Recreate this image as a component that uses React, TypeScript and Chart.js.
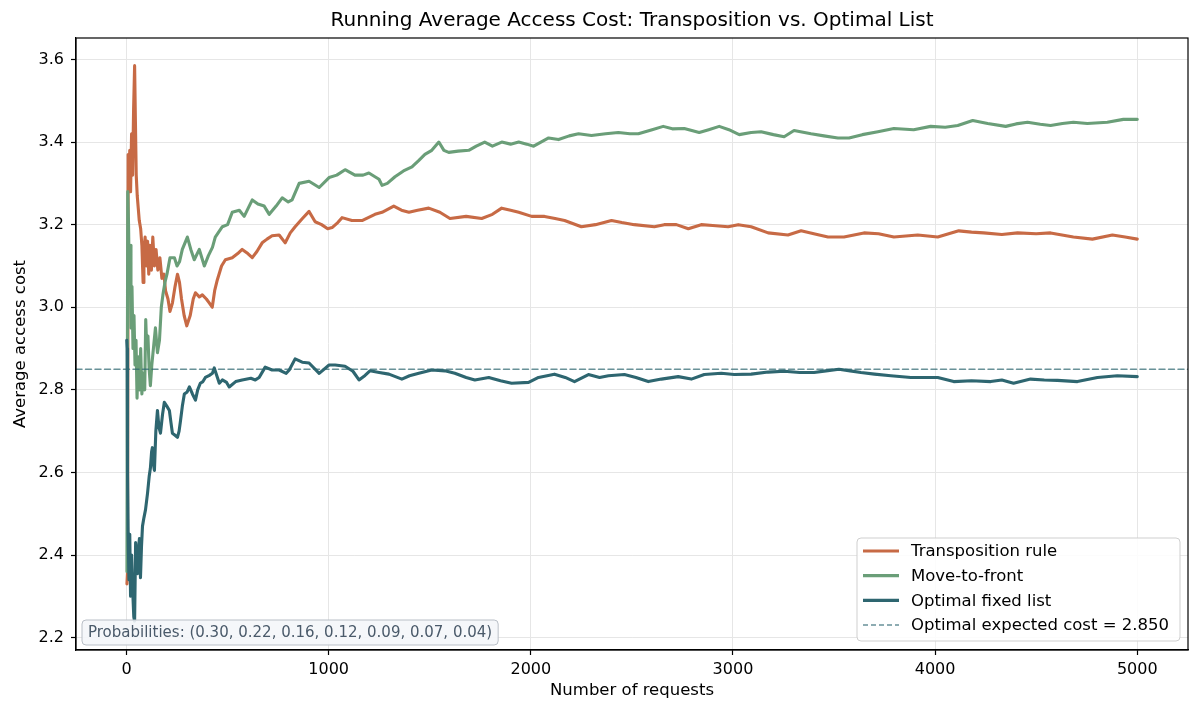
import React, { useEffect, useRef } from "react";
import { Chart, registerables } from "chart.js";

Chart.register(...registerables);

// [request number, running average cost]
const transpositionRule: [number, number][] = [
  [2, 2.33], [5, 2.36], [8, 3.37], [12, 3.3], [16, 3.38], [20, 3.28], [25, 3.42], [30, 3.32], [35, 3.48], [40, 3.585],
  [44, 3.45], [48, 3.32], [53, 3.27], [58, 3.24], [63, 3.21], [70, 3.19], [76, 3.15], [82, 3.06], [86, 3.14], [92, 3.17],
  [98, 3.1], [104, 3.16], [110, 3.08], [116, 3.15], [123, 3.09], [130, 3.17], [138, 3.1], [146, 3.14], [155, 3.09], [165, 3.12],
  [175, 3.07], [185, 3.08], [193, 3.04], [205, 3.02], [215, 2.99], [227, 3.01], [240, 3.05], [252, 3.08], [262, 3.06], [272, 3.02],
  [285, 2.98], [298, 2.955], [315, 2.98], [330, 3.02], [341, 3.035], [360, 3.025], [375, 3.03], [395, 3.02], [410, 3.01], [424, 3.0],
  [436, 3.04], [449, 3.066], [470, 3.1], [489, 3.115], [523, 3.12], [550, 3.13], [572, 3.14], [600, 3.13], [622, 3.12], [645, 3.135],
  [671, 3.156], [695, 3.165], [720, 3.173], [755, 3.175], [785, 3.156], [810, 3.18], [834, 3.195], [870, 3.215], [903, 3.232], [933, 3.207],
  [965, 3.2], [995, 3.19], [1017, 3.193], [1045, 3.205], [1066, 3.217], [1115, 3.21], [1165, 3.21], [1229, 3.225], [1264, 3.23], [1322, 3.245],
  [1360, 3.235], [1397, 3.23], [1440, 3.235], [1495, 3.24], [1550, 3.23], [1600, 3.215], [1680, 3.22], [1757, 3.215], [1810, 3.225], [1856, 3.24],
  [1900, 3.235], [1940, 3.23], [2004, 3.22], [2068, 3.22], [2120, 3.215], [2167, 3.21], [2250, 3.195], [2320, 3.2], [2399, 3.21], [2450, 3.205],
  [2512, 3.2], [2611, 3.195], [2660, 3.2], [2720, 3.2], [2779, 3.19], [2843, 3.2], [2900, 3.198], [2976, 3.195], [3026, 3.2], [3090, 3.195],
  [3174, 3.18], [3272, 3.175], [3337, 3.185], [3400, 3.178], [3470, 3.17], [3549, 3.17], [3648, 3.18], [3720, 3.178], [3796, 3.17], [3914, 3.175],
  [4013, 3.17], [4117, 3.185], [4180, 3.182], [4240, 3.18], [4330, 3.176], [4408, 3.18], [4500, 3.178], [4571, 3.18], [4684, 3.17], [4778, 3.165],
  [4877, 3.175], [4940, 3.17], [5000, 3.165],
];

const moveToFront: [number, number][] = [
  [2, 2.36], [6, 3.28], [10, 3.2], [14, 3.05], [18, 3.15], [22, 2.95], [27, 3.05], [32, 2.9], [37, 2.98], [42, 2.86],
  [47, 2.92], [52, 2.78], [58, 2.88], [64, 2.8], [70, 2.9], [76, 2.79], [82, 2.84], [90, 2.8], [95, 2.97], [100, 2.9],
  [106, 2.93], [112, 2.85], [118, 2.81], [125, 2.86], [133, 2.9], [143, 2.95], [153, 2.89], [163, 2.92], [172, 3.0], [180, 3.03],
  [190, 3.06], [200, 3.08], [215, 3.12], [237, 3.12], [250, 3.1], [262, 3.11], [276, 3.14], [301, 3.17], [318, 3.14], [335, 3.115],
  [360, 3.14], [385, 3.1], [405, 3.125], [425, 3.145], [439, 3.17], [474, 3.195], [500, 3.2], [523, 3.23], [558, 3.235], [582, 3.22],
  [622, 3.26], [650, 3.25], [681, 3.245], [706, 3.225], [740, 3.245], [770, 3.265], [800, 3.255], [819, 3.26], [854, 3.3], [903, 3.305],
  [953, 3.29], [1002, 3.314], [1040, 3.32], [1081, 3.333], [1130, 3.32], [1170, 3.32], [1199, 3.325], [1249, 3.31], [1264, 3.295], [1290, 3.3],
  [1328, 3.316], [1370, 3.33], [1412, 3.34], [1445, 3.355], [1476, 3.37], [1510, 3.38], [1545, 3.4], [1570, 3.38], [1594, 3.375], [1640, 3.378],
  [1693, 3.38], [1730, 3.39], [1772, 3.4], [1810, 3.39], [1856, 3.4], [1900, 3.395], [1940, 3.4], [1980, 3.395], [2014, 3.39], [2050, 3.4],
  [2088, 3.41], [2137, 3.406], [2190, 3.415], [2236, 3.42], [2300, 3.416], [2370, 3.42], [2433, 3.423], [2490, 3.42], [2532, 3.42], [2600, 3.43],
  [2655, 3.438], [2700, 3.432], [2759, 3.433], [2833, 3.423], [2880, 3.43], [2932, 3.438], [2980, 3.43], [3031, 3.418], [3090, 3.423], [3139, 3.425],
  [3200, 3.418], [3253, 3.413], [3302, 3.428], [3386, 3.42], [3450, 3.415], [3519, 3.41], [3574, 3.41], [3640, 3.418], [3717, 3.425], [3796, 3.433],
  [3894, 3.43], [3978, 3.438], [4050, 3.436], [4112, 3.44], [4186, 3.452], [4260, 3.445], [4349, 3.438], [4400, 3.444], [4457, 3.448], [4520, 3.443],
  [4571, 3.44], [4630, 3.445], [4684, 3.448], [4753, 3.445], [4852, 3.448], [4931, 3.455], [5000, 3.455],
];

const optimalFixed: [number, number][] = [
  [1, 2.92], [3, 2.9], [5, 2.6], [8, 2.45], [12, 2.34], [16, 2.45], [20, 2.3], [25, 2.4], [30, 2.32], [36, 2.25],
  [40, 2.24], [45, 2.43], [50, 2.37], [54, 2.355], [60, 2.42], [64, 2.44], [69, 2.345], [74, 2.42], [79, 2.47], [86, 2.49],
  [94, 2.51], [104, 2.55], [112, 2.59], [118, 2.61], [124, 2.65], [128, 2.66], [133, 2.62], [138, 2.605], [145, 2.7], [153, 2.75],
  [160, 2.71], [168, 2.695], [178, 2.74], [187, 2.77], [200, 2.76], [212, 2.75], [220, 2.72], [227, 2.695], [240, 2.69], [252, 2.685],
  [260, 2.7], [267, 2.725], [276, 2.76], [286, 2.79], [300, 2.795], [311, 2.807], [326, 2.79], [341, 2.775], [352, 2.8], [365, 2.816],
  [378, 2.82], [390, 2.83], [410, 2.835], [425, 2.84], [434, 2.853], [459, 2.816], [474, 2.824], [495, 2.818], [508, 2.807], [540, 2.82],
  [572, 2.824], [615, 2.828], [637, 2.824], [656, 2.83], [686, 2.855], [720, 2.848], [755, 2.848], [790, 2.84], [805, 2.848], [834, 2.875],
  [869, 2.867], [903, 2.865], [953, 2.84], [1002, 2.86], [1032, 2.86], [1081, 2.857], [1120, 2.845], [1150, 2.824], [1180, 2.835], [1204, 2.846],
  [1250, 2.842], [1298, 2.838], [1330, 2.832], [1362, 2.826], [1400, 2.834], [1446, 2.84], [1510, 2.848], [1575, 2.846], [1624, 2.84], [1680, 2.83],
  [1723, 2.824], [1792, 2.83], [1850, 2.822], [1905, 2.816], [1989, 2.818], [2038, 2.83], [2117, 2.838], [2170, 2.83], [2216, 2.82], [2285, 2.837],
  [2340, 2.83], [2384, 2.834], [2463, 2.837], [2520, 2.83], [2581, 2.82], [2646, 2.826], [2729, 2.832], [2794, 2.826], [2858, 2.837], [2942, 2.84],
  [3006, 2.837], [3090, 2.838], [3174, 2.843], [3253, 2.845], [3330, 2.842], [3401, 2.842], [3460, 2.846], [3524, 2.85], [3580, 2.846], [3633, 2.842],
  [3700, 2.838], [3781, 2.834], [3880, 2.83], [3950, 2.83], [4013, 2.83], [4092, 2.82], [4180, 2.822], [4275, 2.82], [4330, 2.824], [4388, 2.816],
  [4472, 2.826], [4540, 2.824], [4605, 2.823], [4704, 2.82], [4803, 2.83], [4901, 2.834], [5000, 2.832],
];

const optimalExpectedCost = 2.85;
const probabilities = [0.3, 0.22, 0.16, 0.12, 0.09, 0.07, 0.04];
const seriesLabels = ["Transposition rule", "Move-to-front", "Optimal fixed list"];
const xTicks = [0, 1000, 2000, 3000, 4000, 5000];
const yTicks = [2.2, 2.4, 2.6, 2.8, 3.0, 3.2, 3.4, 3.6];
const xRange = [-249.95, 5250.95];
const yRange = [2.17, 3.652];

const COLORS = {
  trans: "#C76A45",
  mtf: "#6A9E78",
  opt: "#2E6670",
  ref: "rgba(46,102,112,0.72)",
};
const FONT = "'DejaVu Sans', 'Liberation Sans', sans-serif";

const toPoints = (arr: [number, number][]) => arr.map(([x, y]) => ({ x, y }));

const decorPlugin = {
  id: "decor",
  afterDraw(chart: any) {
    const { ctx, chartArea: a } = chart;
    ctx.save();
    // frame
    ctx.strokeStyle = "#000";
    ctx.lineWidth = 1.2;
    ctx.strokeRect(a.left, a.top, a.right - a.left, a.bottom - a.top);

    // title
    ctx.fillStyle = "#000";
    ctx.font = `20px ${FONT}`;
    ctx.textAlign = "center";
    ctx.textBaseline = "middle";
    ctx.fillText(
      "Running Average Access Cost: Transposition vs. Optimal List",
      (a.left + a.right) / 2,
      21
    );

    // probabilities box
    const probText = `Probabilities: (${probabilities.map((p) => p.toFixed(2)).join(", ")})`;
    ctx.font = `15px ${FONT}`;
    const tw = ctx.measureText(probText).width;
    const bx = a.left + 6;
    const bh = 25;
    const by = a.bottom - 5 - bh;
    const bw = tw + 12;
    ctx.beginPath();
    ctx.roundRect(bx, by, bw, bh, 4);
    ctx.fillStyle = "rgba(244,246,249,0.9)";
    ctx.fill();
    ctx.strokeStyle = "#b9bfc7";
    ctx.lineWidth = 1;
    ctx.stroke();
    ctx.fillStyle = "#4a5a6a";
    ctx.textAlign = "left";
    ctx.textBaseline = "middle";
    ctx.fillText(probText, bx + 6, by + bh / 2 + 0.5);

    // legend
    const lw = 323;
    const lh = 103;
    const lx = a.right - 8 - lw;
    const ly = a.bottom - 9 - lh;
    ctx.beginPath();
    ctx.roundRect(lx, ly, lw, lh, 4);
    ctx.fillStyle = "rgba(255,255,255,0.85)";
    ctx.fill();
    ctx.strokeStyle = "#cfcfcf";
    ctx.lineWidth = 1;
    ctx.stroke();
    const rows = [
      { label: seriesLabels[0], color: COLORS.trans, dash: [] as number[], w: 3.2 },
      { label: seriesLabels[1], color: COLORS.mtf, dash: [] as number[], w: 3.2 },
      { label: seriesLabels[2], color: COLORS.opt, dash: [] as number[], w: 3.2 },
      {
        label: `Optimal expected cost = ${optimalExpectedCost.toFixed(3)}`,
        color: COLORS.ref,
        dash: [5, 3],
        w: 1.5,
      },
    ];
    ctx.font = `16.5px ${FONT}`;
    rows.forEach((r, i) => {
      const yy = ly + 13 + i * 24.7;
      ctx.beginPath();
      ctx.setLineDash(r.dash);
      ctx.strokeStyle = r.color;
      ctx.lineWidth = r.w;
      ctx.moveTo(lx + 6, yy);
      ctx.lineTo(lx + 42, yy);
      ctx.stroke();
      ctx.setLineDash([]);
      ctx.fillStyle = "#000";
      ctx.fillText(r.label, lx + 54, yy + 1);
    });
    ctx.restore();
  },
};

export default function App() {
  const ref = useRef<HTMLCanvasElement | null>(null);
  useEffect(() => {
    document.body.style.margin = "0";
    Chart.defaults.font.family = FONT;
    const canvas = ref.current!;
    const chart = new Chart(canvas, {
      type: "line",
      data: {
        datasets: [
          {
            label: "Optimal expected cost",
            data: [
              { x: xRange[0], y: optimalExpectedCost },
              { x: xRange[1], y: optimalExpectedCost },
            ],
            borderColor: COLORS.ref,
            borderWidth: 1.5,
            borderDash: [6, 3.5],
            pointRadius: 0,
            order: 0,
          },
          {
            label: seriesLabels[2],
            data: toPoints(optimalFixed),
            borderColor: COLORS.opt,
            borderWidth: 3.1,
            pointRadius: 0,
            order: 1,
          },
          {
            label: seriesLabels[1],
            data: toPoints(moveToFront),
            borderColor: COLORS.mtf,
            borderWidth: 3.1,
            pointRadius: 0,
            order: 2,
          },
          {
            label: seriesLabels[0],
            data: toPoints(transpositionRule),
            borderColor: COLORS.trans,
            borderWidth: 3.1,
            pointRadius: 0,
            order: 3,
          },
        ],
      },
      options: {
        animation: false,
        responsive: false,
        layout: { padding: { top: 38, right: 12, left: 0, bottom: 0 } },
        plugins: {
          legend: { display: false },
          title: { display: false },
          tooltip: { enabled: false },
        },
        elements: { line: { tension: 0, borderJoinStyle: "round", borderCapStyle: "round" } },
        scales: {
          x: {
            type: "linear",
            min: xRange[0],
            max: xRange[1],
            afterBuildTicks: (axis: any) => {
              axis.ticks = xTicks.map((v) => ({ value: v }));
            },
            afterFit: (s: any) => {
              s.height = 62;
            },
            ticks: {
              color: "#000",
              font: { size: 16 },
              padding: 5,
              maxRotation: 0,
              autoSkip: false,
              callback: (v: any) => String(v),
            },
            grid: {
              color: "#e6e6e6",
              lineWidth: 1,
              tickColor: "#000",
              tickLength: 5,
              tickWidth: 1.2,
            },
            border: { display: true, color: "#000", width: 1.2 },
            title: {
              display: true,
              text: "Number of requests",
              color: "#000",
              font: { size: 16.5 },
              padding: { top: 0, bottom: 11 },
            },
          },
          y: {
            type: "linear",
            min: yRange[0],
            max: yRange[1],
            afterBuildTicks: (axis: any) => {
              axis.ticks = yTicks.map((v) => ({ value: v }));
            },
            afterFit: (s: any) => {
              s.width = 76;
            },
            ticks: {
              color: "#000",
              font: { size: 16 },
              padding: 7,
              autoSkip: false,
              callback: (v: any) => Number(v).toFixed(1),
            },
            grid: {
              color: "#e6e6e6",
              lineWidth: 1,
              tickColor: "#000",
              tickLength: 5,
              tickWidth: 1.2,
            },
            border: { display: true, color: "#000", width: 1.2 },
            title: {
              display: true,
              text: "Average access cost",
              color: "#000",
              font: { size: 16.5 },
              padding: { top: 11, bottom: 0 },
            },
          },
        },
      },
      plugins: [decorPlugin],
    });
    return () => chart.destroy();
  }, []);
  return (
    <div style={{ position: "fixed", left: 0, top: 0, width: 1200, height: 712, background: "#fff" }}>
      <canvas ref={ref} width={1200} height={712} style={{ width: 1200, height: 712 }} />
    </div>
  );
}
